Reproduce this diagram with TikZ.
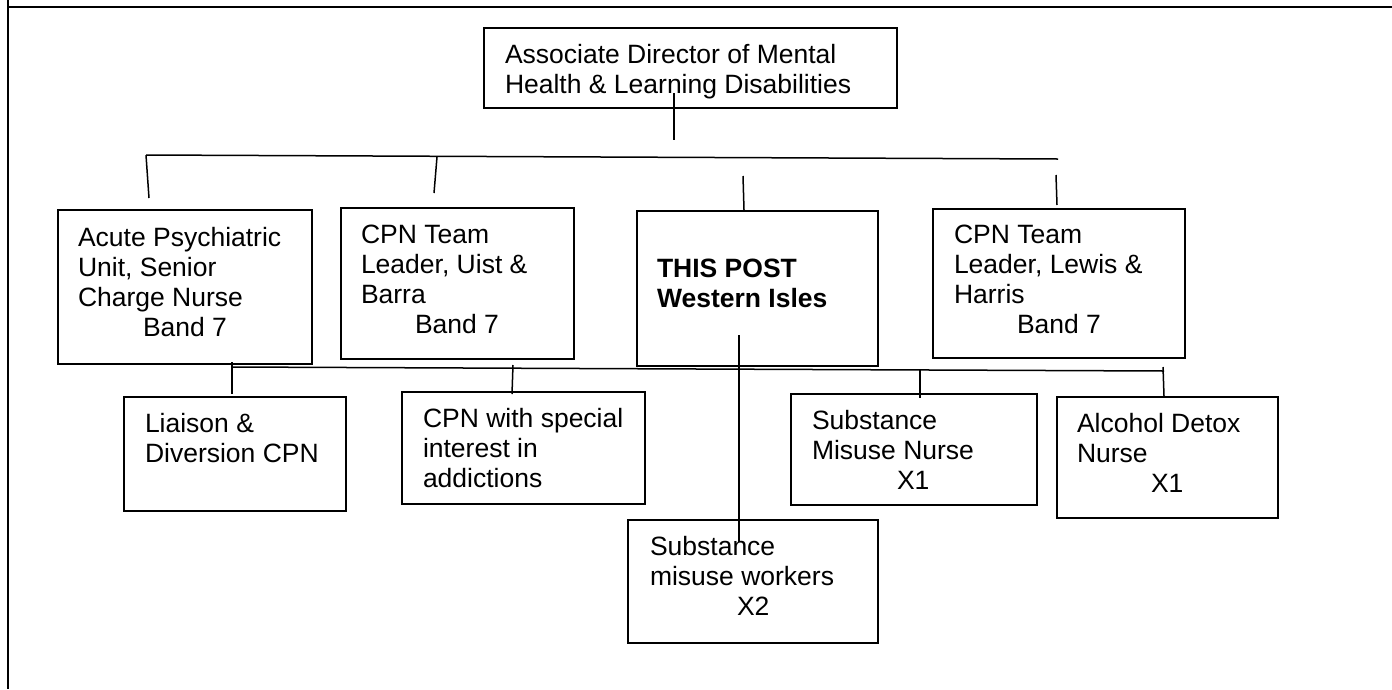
\documentclass[tikz,border=0pt]{standalone}
\usepackage{fontspec}
\setmainfont{Liberation Sans}
\begin{document}
\begin{tikzpicture}[x=1pt,y=-1pt,
  box/.style={draw, line width=1.6pt, inner sep=0pt, outer sep=0pt, anchor=north west},
  txt/.style={inner sep=0pt, outer sep=0pt, anchor=base west, font=\fontsize{26.5}{30.3}\selectfont},
  conn/.style={line width=1.5pt},
  frame/.style={line width=2pt}]
\useasboundingbox (0,0) rectangle (1392,689);
% frame
\coordinate (fTL) at (8,0);
\coordinate (fBL) at (8,689);
\coordinate (fT1) at (7,7);
\coordinate (fT2) at (1392,7);
\draw[frame] (fTL) -- (fBL);
\draw[frame] (fT1) -- (fT2);

% boxes
\node[box, minimum width=413pt, minimum height=80pt] (top) at (484,28) {};
\node[box, minimum width=254pt, minimum height=154pt] (acute) at (58,210) {};
\node[box, minimum width=233pt, minimum height=151pt] (uist) at (341,208) {};
\node[box, minimum width=241pt, minimum height=155pt] (post) at (637,211) {};
\node[box, minimum width=252pt, minimum height=149pt] (lewis) at (933,209) {};
\node[box, minimum width=222pt, minimum height=114pt] (liaison) at (124,397) {};
\node[box, minimum width=243pt, minimum height=112pt] (special) at (402,392) {};
\node[box, minimum width=250pt, minimum height=123pt] (workers) at (628,520) {};
\node[box, minimum width=246pt, minimum height=111pt] (misuse) at (791,394) {};
\node[box, minimum width=221pt, minimum height=121pt] (detox) at (1057,397) {};

% texts
\node[txt] (topt) at (505,63) {\vtop{\hbox{Associate Director of Mental}\hbox{Health \& Learning Disabilities}}};
\node[txt] (acutet) at (78,246) {\vtop{\hbox{Acute Psychiatric}\hbox{Unit, Senior}\hbox{Charge Nurse}\hbox{\hspace*{65pt}Band 7}}};
\node[txt] (uistt) at (361,243) {\vtop{\hbox{CPN Team}\hbox{Leader, Uist \&}\hbox{Barra}\hbox{\hspace*{54pt}Band 7}}};
\node[txt] (postt) at (657,277) {\vtop{\hbox{\bfseries THIS POST}\hbox{\bfseries Western Isles}}};
\node[txt] (lewist) at (954,243) {\vtop{\hbox{CPN Team}\hbox{Leader, Lewis \&}\hbox{Harris}\hbox{\hspace*{63pt}Band 7}}};
\node[txt] (liaisont) at (145,432) {\vtop{\hbox{Liaison \&}\hbox{Diversion CPN}}};
\node[txt] (specialt) at (423,427) {\vtop{\hbox{CPN with special}\hbox{interest in}\hbox{addictions}}};
\node[txt] (workerst) at (650,555) {\vtop{\hbox{Substance}\hbox{misuse workers}\hbox{\hspace*{87pt}X2}}};
\node[txt] (misuset) at (812,429) {\vtop{\hbox{Substance}\hbox{Misuse Nurse}\hbox{\hspace*{85pt}X1}}};
\node[txt] (detoxt) at (1077,432) {\vtop{\hbox{Alcohol Detox}\hbox{Nurse}\hbox{\hspace*{74pt}X1}}};

% connector coordinates
\coordinate (topS) at (674,93);
\coordinate (topE) at (674,140);
\coordinate (h1L) at (146,155);
\coordinate (h1R) at (1058,159);
\coordinate (s1a) at (146,155);  \coordinate (s1b) at (149,198);
\coordinate (s2a) at (437,157);  \coordinate (s2b) at (434,193);
\coordinate (s3a) at (743,176);  \coordinate (s3b) at (744,210);
\coordinate (s4a) at (1056,175); \coordinate (s4b) at (1057,205);
\coordinate (h2L) at (232,367);
\coordinate (h2R) at (1164,371);
\coordinate (l1a) at (232,362);  \coordinate (l1b) at (232,394);
\coordinate (l2a) at (513,365);  \coordinate (l2b) at (512,394);
\coordinate (l3a) at (920,370);  \coordinate (l3b) at (920,398);
\coordinate (l4a) at (1163,367); \coordinate (l4b) at (1164,396);
\coordinate (vA) at (739,335);
\coordinate (vB) at (739,542);

\draw[conn] (topS) -- (topE);
\draw[conn] (h1L) -- (h1R);
\draw[conn] (s1a) -- (s1b);
\draw[conn] (s2a) -- (s2b);
\draw[conn] (s3a) -- (s3b);
\draw[conn] (s4a) -- (s4b);
\draw[conn] (h2L) -- (h2R);
\draw[conn] (l1a) -- (l1b);
\draw[conn] (l2a) -- (l2b);
\draw[conn] (l3a) -- (l3b);
\draw[conn] (l4a) -- (l4b);
\draw[conn] (vA) -- (vB);
\end{tikzpicture}
\end{document}
